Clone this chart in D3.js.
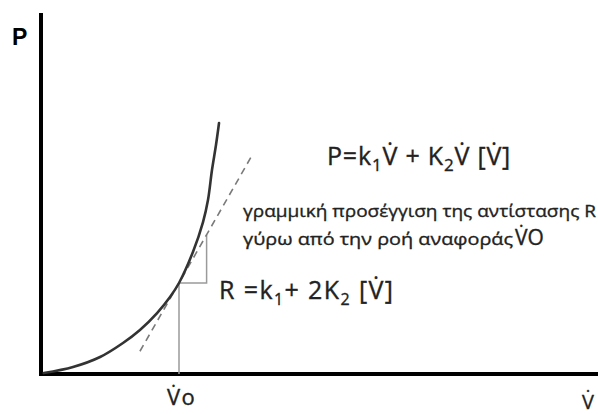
<!DOCTYPE html>
<html>
<head>
<meta charset="utf-8">
<script src="https://cdn.jsdelivr.net/npm/d3@7"></script>
<style>
  html, body { margin: 0; padding: 0; background: #fff; }
  svg { display: block; }
  text { fill: #222; stroke: #222; stroke-width: 0.35px; font-family: "Open Sans", "Noto Sans", sans-serif; }
</style>
</head>
<body>
<svg id="chart" width="598" height="414"></svg>
<script>
// Pressure–flow curve P = k1·V̇ + K2·V̇², flow in units of the reference flow V̇o
const flowValues     = [0.02, 0.232, 0.428, 0.594, 0.717, 0.841, 0.935, 1.0, 1.101, 1.174, 1.210, 1.239, 1.268, 1.290];
const pressureValues = [0.01, 0.077, 0.187, 0.341, 0.484, 0.670, 0.846, 1.0, 1.341, 1.670, 1.912, 2.242, 2.516, 2.758];

// Linearisation around the reference flow (slope = resistance R)
const refFlow = 1.0;
const refPressure = 1.0;
const resistance = 2.65;
const tangentFlow = [0.717, 1.53];
const triangleRun = 0.2;

const W = 598, H = 414;
const margin = { left: 41, bottom: 40, top: 10 };

const x = d3.scaleLinear().domain([0, 4]).range([margin.left, margin.left + 4 * 138]);
const y = d3.scaleLinear().domain([0, 4]).range([H - margin.bottom, H - margin.bottom - 4 * 91]);

const svg = d3.select("#chart");

// axes
svg.append("line")
  .attr("x1", x(0)).attr("x2", x(0))
  .attr("y1", 13).attr("y2", y(0) + 2)
  .attr("stroke", "#000").attr("stroke-width", 4);
svg.append("line")
  .attr("x1", x(0) - 2).attr("x2", W)
  .attr("y1", y(0)).attr("y2", y(0))
  .attr("stroke", "#000").attr("stroke-width", 4);

// vertical drop from the operating point
svg.append("line")
  .attr("x1", x(refFlow)).attr("x2", x(refFlow))
  .attr("y1", y(refPressure)).attr("y2", y(0))
  .attr("stroke", "#9a9a9a").attr("stroke-width", 1.5);

// slope triangle
const tri = [
  [refFlow, refPressure],
  [refFlow + triangleRun, refPressure],
  [refFlow + triangleRun, refPressure + resistance * triangleRun]
];
svg.append("path")
  .attr("d", d3.line().x(d => x(d[0])).y(d => y(d[1]))(tri))
  .attr("fill", "none").attr("stroke", "#9a9a9a").attr("stroke-width", 1.5);

// tangent (dashed)
const tangent = tangentFlow.map(v => [v, refPressure + resistance * (v - refFlow)]);
svg.append("path")
  .attr("d", d3.line().x(d => x(d[0])).y(d => y(d[1]))(tangent))
  .attr("fill", "none").attr("stroke", "#7a7a7a").attr("stroke-width", 1.6)
  .attr("stroke-dasharray", "7,5");

// pressure-flow curve
const curvePts = flowValues.map((v, i) => [v, pressureValues[i]]);
svg.append("path")
  .attr("d", d3.line().x(d => x(d[0])).y(d => y(d[1])).curve(d3.curveCatmullRom)(curvePts))
  .attr("fill", "none").attr("stroke", "#333").attr("stroke-width", 2.6)
  .attr("stroke-linecap", "round");

// axis titles
svg.append("text").attr("x", 12).attr("y", 45)
  .style("font-family", "'Liberation Sans', Arial, sans-serif")
  .style("font-weight", "bold").style("font-size", "23px")
  .style("fill", "#000").style("stroke", "none")
  .text("P");
svg.append("text").attr("x", 594).attr("y", 409).attr("text-anchor", "end")
  .style("font-size", "20px").text("V\u0307");
svg.append("text").attr("x", 167).attr("y", 405)
  .style("font-size", "22px").style("letter-spacing", "1.5px").text("V\u0307o");

// equation of the curve
const eq = svg.append("text").attr("x", 327).attr("y", 165)
  .style("font-size", "25px").style("letter-spacing", "0.8px");
eq.append("tspan").text("P=k");
eq.append("tspan").attr("dy", 6).style("font-size", "17px").text("1");
eq.append("tspan").attr("dy", -6).text("V\u0307 + K");
eq.append("tspan").attr("dy", 6).style("font-size", "17px").text("2");
eq.append("tspan").attr("dy", -6).text("V\u0307 [V\u0307]");

// linearisation note
svg.append("text").attr("x", 243).attr("y", 217).style("font-size", "17px")
  .attr("textLength", 353).attr("lengthAdjust", "spacingAndGlyphs")
  .text("γραμμική προσέγγιση της αντίστασης R");
const l2 = svg.append("text").attr("x", 243).attr("y", 245).style("font-size", "17px");
l2.append("tspan").attr("textLength", 270).attr("lengthAdjust", "spacingAndGlyphs")
  .text("γύρω από την ροή αναφοράς");
l2.append("tspan").attr("dx", 2).style("font-size", "21px").text("V\u0307O");

// resistance equation
const req = svg.append("text").attr("x", 219).attr("y", 299)
  .style("font-size", "25px").style("letter-spacing", "1.4px");
req.append("tspan").text("R =k");
req.append("tspan").attr("dy", 6).style("font-size", "16px").text("1");
req.append("tspan").attr("dy", -6).text("+ 2K");
req.append("tspan").attr("dy", 6).style("font-size", "16px").text("2");
req.append("tspan").attr("dy", -6).text(" [V\u0307]");
</script>
</body>
</html>
